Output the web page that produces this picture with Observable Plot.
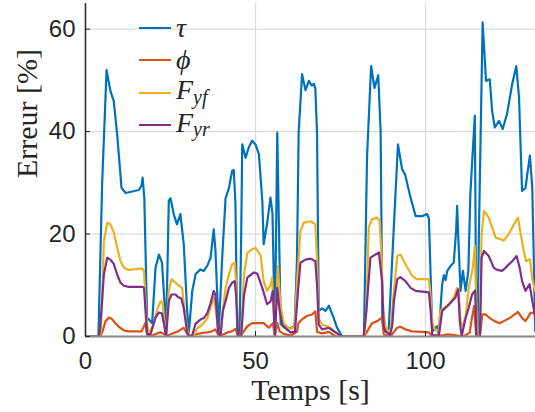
<!DOCTYPE html>
<html><head><meta charset="utf-8">
<script src="https://cdn.jsdelivr.net/npm/d3@7"></script>
<script src="https://cdn.jsdelivr.net/npm/@observablehq/plot@0.6"></script>
<style>
body{margin:0;background:#fff;}
#chart{position:relative;width:535px;height:412px;overflow:hidden;}
#chart svg{font-family:"Liberation Sans",Arial,sans-serif;}
.legend{position:absolute;left:139px;top:12px;font-family:"Liberation Serif",serif;font-style:italic;font-size:28px;color:#262626;}
.row{display:flex;align-items:center;height:32.3px;white-space:nowrap;}
.sw{width:32px;height:2px;margin-right:5px;}
.row sub{font-size:20px;position:relative;top:-2px;}
</style></head><body><div id="chart"></div>
<script>
const xTicks = [0, 50, 100];
const yTicks = [0, 20, 40, 60];
const xLabel = "Temps [s]";
const yLabel = "Erreur [%]";
const names = ["τ", "ϕ", "F_yf", "F_yr"];
const colors = ["#0072BD", "#D95319", "#EDB120", "#7E2F8E"];

const tau = [[0,0],[3.8,0],[4.9,30],[6.2,52],[7.3,48],[8.3,46],[9.3,39.5],[10.6,29],[11.8,28],[13.7,28.3],[15.7,28.6],[16.5,29.5],[16.8,31],[17.3,27],[18.1,3.7],[19.1,3],[19.6,2.6],[20.6,13.4],[21.6,16],[22.5,14.4],[23.2,6.9],[23.7,0],[24.5,26.5],[25,27],[26,23.8],[26.9,21.9],[27.9,23.9],[28.9,18],[29.9,5],[30.4,0.8],[31.4,8.9],[32.4,12.2],[33.8,13.1],[34.8,12.8],[35.8,13.8],[36.8,15.4],[37.7,20.9],[38.2,17],[39.2,1],[40.2,15.4],[41.2,27],[42.2,29],[43.1,32.3],[43.6,32.5],[44.1,26],[44.6,1],[45.3,0.5],[45.8,20],[46.1,37.5],[47.1,34.9],[48,36.9],[49,38.2],[50,37.5],[51,35.6],[52,26.5],[52.4,18],[53.4,22],[54.4,27.1],[55,24],[55.7,0.5],[56.4,39.8],[57.4,2.4],[58.6,2],[60,1.5],[61.5,2],[62.2,15],[62.7,40],[63.7,51.2],[64.7,48.1],[65.7,49.9],[66.5,49],[67.2,49.3],[67.6,48.3],[68.1,39.5],[68.6,5],[69.6,5.5],[70.6,5],[71.6,6],[73,3.6],[74,1.7],[75.5,0],[81.9,0],[82.8,35],[84,52.8],[85,48.5],[86.1,51],[86.8,40],[87.3,3],[88.2,1],[89.2,1.5],[90.2,15],[91.9,37.5],[93.1,32.7],[94,31.6],[95.6,27.1],[97.1,23.5],[99,23.5],[100.5,23.9],[101,23],[102,1],[102.9,1.7],[103.4,2],[103.9,0.5],[104.9,10.2],[105.4,12],[105.9,11],[106.4,12.8],[107.4,13.8],[108.3,14.4],[109,20.6],[109.3,25.5],[109.6,20],[110.3,8.9],[111,12.8],[111.8,8.9],[112.6,12.8],[113.2,28],[114.5,43.1],[114.9,5],[115.3,0.5],[115.7,20],[116.8,61.3],[117.8,49.9],[118.9,50.2],[119.6,44],[120.4,40.8],[121.6,42.1],[122.7,40.5],[124,43.5],[125.5,49.3],[126.7,52.8],[127.5,46.7],[128.4,28.4],[129.4,29],[130.7,35.3],[131.4,29],[132.3,1]];

const phi = [[0,0],[4.4,0],[4.9,0.8],[5.9,3],[6.9,3.7],[7.8,3.4],[8.8,2.6],[9.8,1.9],[11.3,1.2],[12.7,1.0],[16.5,1.0],[17.6,2.6],[18.1,0.5],[18.6,0],[19.6,0.2],[20.6,0.5],[22,0.8],[23.2,0.5],[23.7,0],[24.5,0.3],[25.5,0.6],[27.2,1],[28.9,1.7],[29.9,0.5],[30.6,0],[32.4,0.4],[34.3,0.7],[35.8,0.8],[37.2,1.0],[38.2,1.4],[39.2,0.1],[40.2,0.3],[41.7,0.8],[43.1,1.0],[44.1,1.5],[44.9,0],[45.8,0.3],[47.6,2],[49,2.6],[50.5,2.6],[52.4,2.6],[53.9,1.7],[55.1,2.6],[55.7,0],[56.4,2.6],[57.1,1],[58.3,0.5],[60.3,0.2],[62.2,0.9],[62.6,2.6],[63.6,3.3],[65.1,4],[66.6,4.3],[67.6,4.9],[68.1,0.9],[69.6,0.6],[71.6,0.9],[73.5,0],[82,0],[83,1.2],[84.3,2.6],[85.8,3],[87.2,3.7],[87.7,0.4],[89.7,0],[90.7,0.9],[91.7,1.7],[92.6,1.9],[94.1,1.4],[96,1],[99,0.9],[101,0.8],[102,0],[103,0.3],[104.9,0.2],[106.4,0.4],[107.8,0.3],[109.3,0.2],[110.3,0],[112,0.3],[113,0.8],[113.5,3],[114.3,6],[114.9,0],[116,0],[116.7,4.3],[117.6,4.3],[118.9,3.6],[120.3,3],[121.8,2.6],[123,3],[124.5,3.5],[127.2,4.8],[128.4,3.6],[129.4,3],[130.9,4.6],[132.3,4.6]];

const fyf = [[0,0],[4.4,0],[4.9,7],[5.4,18.6],[6.4,22.2],[7.3,21.9],[8.3,20.4],[9.3,17.4],[10.3,14.7],[11.3,13.4],[12.7,13],[16.7,13.3],[17.2,12.8],[17.8,5.1],[18.4,0.8],[19.1,1.2],[20.1,2.5],[21.1,5.3],[22.1,6.9],[22.7,6.5],[23.3,2],[23.7,0],[24.5,9],[25.3,11.2],[26.5,10.5],[27.5,9.9],[28.4,9.5],[28.9,6.6],[29.9,1.5],[30.6,0],[31.9,0.3],[32.9,1.6],[34.3,2.3],[35.8,3.5],[36.8,5.7],[37.7,7.6],[38.2,6],[39,1],[39.7,0.3],[40.4,5.2],[41.2,9.5],[42.2,12.1],[43.1,14.1],[43.9,14.4],[44.3,10],[44.9,0],[45.8,0.3],[46.6,12],[47.6,16.3],[49,17],[50,17.3],[51.5,15.8],[52.4,10.8],[53.4,8.9],[54.4,10],[54.9,11.5],[55.7,0.3],[56.6,13.8],[57.3,6.3],[58.3,2.6],[60,1.5],[61.5,1.8],[62.2,10.5],[63.2,20.6],[64.2,22.2],[66.2,22.5],[67.6,21.9],[68.1,15],[68.6,3.5],[69.6,2.3],[71.1,2],[72.6,1.4],[74.5,0.3],[75.5,0],[82,0],[82.6,5],[83.3,21.3],[84.3,22.9],[85.8,23.2],[86.5,22.6],[87.1,15],[87.6,5],[88.2,2],[89.2,0.8],[89.7,1],[90.7,8.9],[91.7,15.7],[92.6,16],[94.1,14.1],[96.1,11.8],[97.5,11.2],[101,11.2],[101.5,7.6],[102,2.6],[102.9,1.2],[103.9,1.2],[104.4,5],[105.4,5.6],[106.9,6.3],[108.3,7.6],[109.3,9.5],[109.7,9.2],[110.3,3],[111,2],[111.8,4],[112.7,9.5],[113.9,13.4],[114.5,17.7],[114.9,8],[115.2,0],[116,0.3],[116.5,20],[117.2,24.5],[118.6,23.2],[119.6,21.3],[120.6,19.3],[122.1,19],[123,18.7],[124.5,20],[126,21.9],[127.2,23.2],[128,20],[128.9,16.7],[129.6,14.7],[130.7,15.1],[131.4,11.2],[132.3,8.9]];

const fyr = [[0,0],[4.0,0],[4.4,2.4],[5.4,12.1],[6.4,15.4],[7.3,15],[8.3,14.2],[9.3,12.1],[10.3,10.5],[11.3,9.9],[12.7,9.7],[16.7,9.7],[17.2,9.5],[17.6,5.6],[18.1,0.5],[19.1,0.4],[19.6,1.5],[20.6,3.7],[21.6,4.7],[22.5,4.5],[23.2,2],[23.7,0],[24.5,6.9],[25.3,8.2],[26.5,8.2],[27.2,7.7],[28.2,7.4],[28.9,5.5],[29.9,0.8],[30.6,0],[31.4,0.3],[32.4,2.5],[33.8,3.3],[34.8,3.6],[35.8,4.5],[36.8,6.5],[37.7,8.9],[38.2,8.2],[39,1],[39.7,0],[40.4,5],[41.2,6.9],[42.2,9.5],[43.1,10.5],[43.9,10.8],[44.3,8],[44.9,0],[45.8,0.2],[46.6,8],[47.6,11.5],[49.5,12.5],[50.5,12.3],[52,9.5],[53.4,6.3],[54.4,6.8],[55.1,8.9],[55.7,0.3],[56.4,9.5],[57.1,5],[58,2],[60.3,0.8],[61.6,0.9],[62.5,8.9],[63.2,14.4],[64.7,15],[66.2,15.2],[67.6,14.7],[68.1,10],[68.6,2.3],[69.6,1.4],[71.6,1.7],[73.5,0.8],[75.5,0],[81.8,0],[82.6,5],[83.8,15.4],[86.3,16.4],[87.2,11],[87.7,2],[88.2,1],[89.5,0.3],[90.2,2],[90.7,6.9],[91.7,11.2],[92.6,11.6],[94.1,10.8],[95.6,9.5],[97.1,8.9],[101,8.6],[101.5,5],[102,0.3],[103.9,0],[104.9,5],[106.4,5.9],[107.8,6.9],[108.8,7.6],[109.6,9.2],[110.1,3],[110.6,0],[111.8,3.6],[112.7,5.6],[113.7,8.2],[114.6,9],[115,0],[116,0],[116.5,15.4],[117.2,16.7],[118.6,15.7],[120.1,13.4],[121.1,13],[122.5,12.8],[123.5,13.4],[125.5,14.7],[126.8,15.7],[127.7,13.4],[128.4,10.8],[129.4,8.9],[130.6,10.2],[131.4,7],[132.3,3.6]];

const seriesData = [tau, phi, fyf, fyr];
const rows = seriesData.flatMap((s, k) => s.map(([t, v]) => ({t, v, name: names[k]})));

const sans = "Liberation Sans, Arial, sans-serif";
const serif = "Liberation Serif, Times New Roman, serif";

const plot = Plot.plot({
  width: 535,
  height: 412,
  marginLeft: 85,
  marginRight: 0,
  marginTop: 3,
  marginBottom: 76,
  x: {domain: [0, 132.35]},
  y: {domain: [0, 65]},
  color: {domain: names, range: colors},
  marks: [
    Plot.gridX(xTicks, {stroke: "#dcdcdc", strokeOpacity: 1, strokeWidth: 1.3}),
    Plot.gridY(yTicks, {stroke: "#dcdcdc", strokeOpacity: 1, strokeWidth: 1.3}),
    Plot.line(rows, {x: "t", y: "v", z: "name", stroke: "name", strokeWidth: 2.2, clip: true, curve: "linear"}),
    Plot.ruleY([0], {stroke: "#8a8a8a", strokeWidth: 2}),
    Plot.ruleX([0], {stroke: "#262626", strokeWidth: 1.5}),
    Plot.axisX(xTicks, {tickSize: -5, tickPadding: 20, fontSize: 24, fontFamily: sans, color: "#262626", label: null}),
    Plot.axisY(yTicks, {tickSize: -5, tickPadding: 15, fontSize: 24, fontFamily: sans, color: "#262626", label: null}),
    Plot.text([xLabel], {text: d => d, frameAnchor: "bottom", dy: 54, lineAnchor: "middle", fontFamily: serif, fontSize: 30, fill: "#262626"}),
    Plot.text([yLabel], {text: d => d, frameAnchor: "left", dx: -58, dy: 8, rotate: -90, lineAnchor: "middle", fontFamily: serif, fontSize: 30, fill: "#262626"})
  ]
});
const chart = document.getElementById("chart");
chart.appendChild(plot);

const legend = document.createElement("div");
legend.className = "legend";
const labelsHtml = ["τ", "ϕ", "F<sub>yf</sub>", "F<sub>yr</sub>"];
names.forEach((n, i) => {
  const r = document.createElement("div");
  r.className = "row";
  r.innerHTML = `<span class="sw" style="background:${colors[i]}"></span><span>${labelsHtml[i]}</span>`;
  legend.appendChild(r);
});
chart.appendChild(legend);
</script></body></html>
